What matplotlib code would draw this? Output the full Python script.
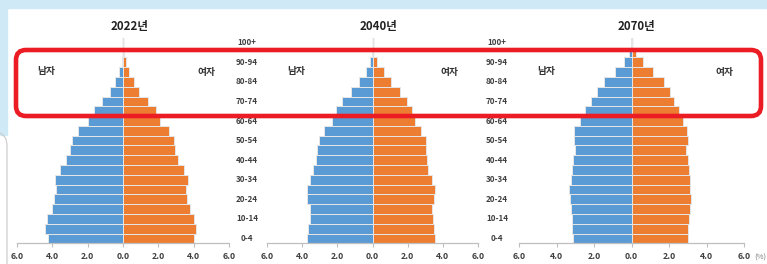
# Population pyramids 2022 / 2040 / 2070

import numpy as np
import matplotlib.pyplot as plt
from matplotlib.patches import FancyBboxPatch, Rectangle, PathPatch
from matplotlib.path import Path
from matplotlib.transforms import IdentityTransform

plt.rcParams['font.family'] = ['Noto Sans CJK KR', 'DejaVu Sans']

ages = ['0-4', '5-9', '10-14', '15-19', '20-24', '25-29', '30-34', '35-39',
        '40-44', '45-49', '50-54', '55-59', '60-64', '65-69', '70-74',
        '75-79', '80-84', '85-89', '90-94', '95-99', '100+']
years = ['2022년', '2040년', '2070년']

male_2022 = [4.25, 4.40, 4.28, 4.04, 3.90, 3.79, 3.87, 3.59, 3.21, 2.98, 2.87,
             2.53, 1.98, 1.65, 1.19, 0.74, 0.43, 0.23, 0.08, 0.02, 0.0]
female_2022 = [4.00, 4.15, 4.02, 3.77, 3.64, 3.57, 3.68, 3.48, 3.14, 2.96, 2.87,
               2.58, 2.10, 1.85, 1.42, 0.91, 0.62, 0.34, 0.15, 0.04, 0.0]

male_2040 = [3.73, 3.64, 3.58, 3.56, 3.70, 3.73, 3.56, 3.36, 3.22, 3.16, 3.07,
             2.74, 2.30, 2.09, 1.74, 1.25, 0.78, 0.38, 0.15, 0.03, 0.0]
female_2040 = [3.58, 3.51, 3.43, 3.37, 3.49, 3.53, 3.36, 3.18, 3.10, 3.04, 3.04,
               2.74, 2.42, 2.26, 1.99, 1.55, 1.08, 0.66, 0.28, 0.05, 0.0]

male_2070 = [3.13, 3.16, 3.20, 3.24, 3.29, 3.31, 3.25, 3.17, 3.10, 3.00, 3.09,
             3.05, 2.77, 2.47, 2.17, 1.85, 1.46, 0.87, 0.39, 0.12, 0.02]
female_2070 = [2.99, 3.02, 3.08, 3.13, 3.16, 3.14, 3.11, 3.04, 2.99, 2.90, 3.00,
               2.95, 2.74, 2.51, 2.28, 2.03, 1.72, 1.16, 0.59, 0.23, 0.03]

males = [male_2022, male_2040, male_2070]
females = [female_2022, female_2040, female_2070]

W, H = 767, 264
fig = plt.figure(figsize=(W / 100, H / 100), dpi=100)
fig.patch.set_facecolor('white')

# slide background bits (pixel coords, origin bottom-left)
px = IdentityTransform()
fig.add_artist(Rectangle((0, H - 8), W, 8, transform=px, color='#cfeaf6', zorder=0))
fig.add_artist(Rectangle((0, H - 135), 7, 135, transform=px, color='#cfeaf6', zorder=0))
bracket = Path([(0, H - 133), (7, H - 136), (7, H - 146), (7, 0)],
               [Path.MOVETO, Path.CURVE3, Path.CURVE3, Path.LINETO])
fig.add_artist(PathPatch(bracket, transform=px, fill=False, edgecolor='#c8c8c8', lw=0.8))

blue = '#5b9bd5'
orange = '#ed7d31'
y = np.arange(len(ages))

# axes boxes in pixels: left, right
boxes = [(17, 229), (267, 478), (519, 744)]
top_px, bot_px = 37.9, 243.3

for k in range(3):
    l, r = boxes[k]
    ax = fig.add_axes([l / W, (H - bot_px) / H, (r - l) / W, (bot_px - top_px) / H])
    ax.barh(y, -np.array(males[k]), height=1.0, color=blue, edgecolor='#e6e6e6', lw=0.7, zorder=2)
    ax.barh(y, females[k], height=1.0, color=orange, edgecolor='#e6e6e6', lw=0.7, zorder=2)
    ax.axvline(0, color='#bfbfbf', lw=1.0, zorder=1)
    ax.set_xlim(-6, 6)
    ax.set_ylim(-0.5, 20.5)
    ax.set_xticks([-6, -4, -2, 0, 2, 4, 6])
    ax.set_xticklabels(['6.0', '4.0', '2.0', '0.0', '2.0', '4.0', '6.0'],
                       fontsize=6.3, fontweight='bold', color='#404040')
    ax.tick_params(axis='x', length=3, width=0.8, color='#bfbfbf', pad=3)
    ax.set_yticks([])
    for s in ['top', 'left', 'right']:
        ax.spines[s].set_visible(False)
    ax.spines['bottom'].set_color('#bfbfbf')
    ax.spines['bottom'].set_linewidth(0.9)
    ax.set_facecolor('none')

    unit = (r - l) / 12
    zero = (l + r) / 2
    tx = {0: 130, 1: 379, 2: 636}[k]
    ax.text((tx - zero) / unit, 21.7, years[k], ha='center', va='center',
            fontsize=8.3, fontweight='bold', color='#222222', clip_on=False)
    mx = {0: 46, 1: 296, 2: 546}[k]
    fx = {0: 206, 1: 449, 2: 724}[k]
    ax.text((mx - zero) / unit, 17.1, '남자', ha='center', va='center',
            fontsize=7, fontweight='bold', color='#333333')
    ax.text((fx - zero) / unit, 17.0, '여자', ha='center', va='center',
            fontsize=7, fontweight='bold', color='#333333', clip_on=False)
    if k < 2:
        lx = {0: 247, 1: 497}[k]
        for i in range(0, len(ages), 2):
            ax.text((lx - zero) / unit, i, ages[i], ha='center', va='center',
                    fontsize=5.8, fontweight='bold', color='#404040', clip_on=False)
    else:
        ax.text((760 - zero) / unit, -2.0, '(%)', ha='center', va='center',
                fontsize=5.5, color='#7f7f7f', clip_on=False)

# red highlight box
fig.add_artist(FancyBboxPatch((16, H - 116), 745, 66, transform=px,
                              boxstyle='round,pad=0,rounding_size=10',
                              fill=False, edgecolor='#ec1c24', lw=3.3, zorder=10))

fig.savefig('out.png', dpi=100)
